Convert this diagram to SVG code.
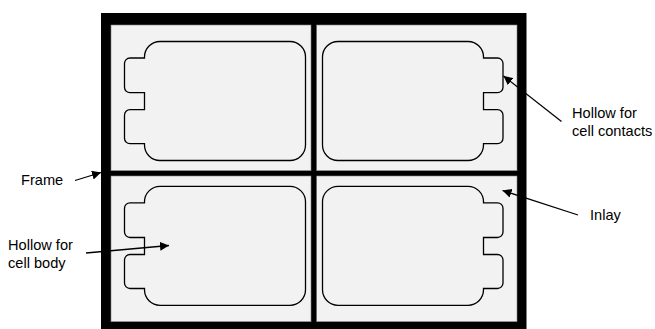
<svg xmlns="http://www.w3.org/2000/svg" width="655" height="329" viewBox="0 0 655 329">
<style>
.cell{fill:#f2f2f2;stroke:#808080;stroke-width:.6}
.hollow{fill:#f2f2f2;stroke:#000;stroke-width:1.3}
.lbl{font-family:"Liberation Sans",Arial,sans-serif;font-size:14.600px;fill:#000}
.arr{fill:none;stroke:#000;stroke-width:1.300;marker-end:url(#ah)}
</style>
<defs>
<marker id="ah" markerUnits="userSpaceOnUse" markerWidth="10" markerHeight="9" refX="9" refY="4.500" orient="auto"><path d="M0 0L9 4.500L0 9Z" fill="#000"/></marker>
<path id="left" d="M169 41.500H290A15.500 15.500 0 0 1 305.500 57V145A15.500 15.500 0 0 1 290 160.500H160A15.500 15.500 0 0 1 144.500 145V143.700H130A5.500 5.500 0 0 1 124.500 138.200V115.200A5.500 5.500 0 0 1 130 109.700H144.500V92.700H130A5.500 5.500 0 0 1 124.500 87.200V63.500A5.500 5.500 0 0 1 130 58H144.500V57A15.500 15.500 0 0 1 160 41.500Z"/>
<path id="right" d="M338 41.500H468A15.500 15.500 0 0 1 483.500 57V58H497.500A5.500 5.500 0 0 1 503 63.500V87.200A5.500 5.500 0 0 1 497.500 92.700H483.500V109.700H497.500A5.500 5.500 0 0 1 503 115.200V138.200A5.500 5.500 0 0 1 497.500 143.700H483.500V145A15.500 15.500 0 0 1 468 160.500H338A15.500 15.500 0 0 1 322.500 145V57A15.500 15.500 0 0 1 338 41.500Z"/>
</defs>
<g id="frame"><rect x="101" y="13" width="425.500" height="316" fill="#000"/></g>
<g id="inlay-tl"><rect class="cell" x="111" y="25" width="200" height="145.700"/><use href="#left" class="hollow"/></g>
<g id="inlay-tr"><rect class="cell" x="316.700" y="25" width="200.300" height="145.700"/><use href="#right" class="hollow"/></g>
<g id="inlay-bl"><rect class="cell" x="111" y="176" width="200" height="145.700"/><use href="#left" class="hollow" y="144.800"/></g>
<g id="inlay-br"><rect class="cell" x="316.700" y="176" width="200.300" height="145.700"/><use href="#right" class="hollow" y="144.800"/></g>
<g id="connectors">
<path class="arr" d="M75 180.500L101 172.500"/>
<path class="arr" d="M86 253L169 245.500"/>
<path class="arr" d="M561.500 121.500L503.500 76"/>
<path class="arr" d="M578 215L502.500 190.500"/>
</g>
<g id="label-frame"><text class="lbl" x="21" y="185">Frame</text></g>
<g id="label-body"><text class="lbl" x="8" y="250">Hollow for</text><text class="lbl" x="8" y="267.500">cell body</text></g>
<g id="label-contacts"><text class="lbl" x="572" y="117.500">Hollow for</text><text class="lbl" x="572" y="135.500">cell contacts</text></g>
<g id="label-inlay"><text class="lbl" x="590" y="220">Inlay</text></g>
</svg>
